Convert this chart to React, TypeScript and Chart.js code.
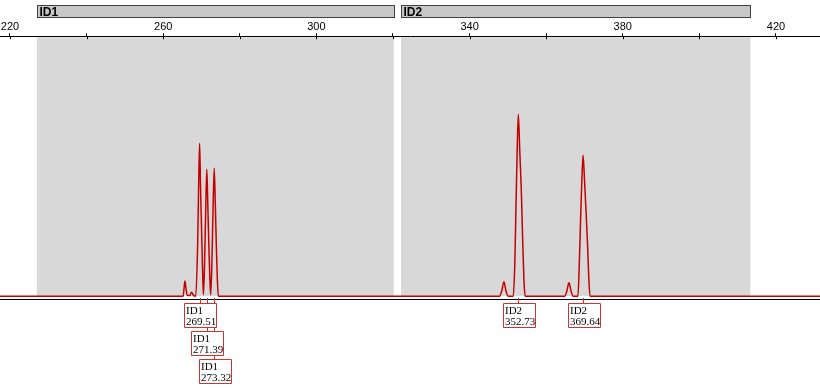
import React, { useEffect, useRef } from 'react';
import { Chart, registerables } from 'chart.js';

Chart.register(...registerables);

// Electropherogram trace: size (bp) and signal (RFU)
const TRACE_BP = [
  217.39, 265.2, 265.45, 265.69, 265.95, 266.3, 266.9, 267.4, 267.9, 268.5,
  269.0, 269.25, 269.51, 269.75, 270.0, 270.25, 270.5,
  270.8, 271.1, 271.39, 271.65, 271.95, 272.2, 272.4,
  272.7, 273.0, 273.32, 273.6, 273.9, 274.15, 274.4,
  347.8, 348.4, 348.98, 349.5, 350.1,
  351.4, 351.8, 352.1, 352.4, 352.73, 353.1, 353.5, 353.9, 354.2, 354.5,
  364.9, 365.4, 365.95, 366.5, 367.0,
  368.3, 368.7, 369.0, 369.3, 369.64, 370.0, 370.4, 370.8, 371.1, 371.45,
  431.5,
];
const TRACE_RFU = [
  0, 0, 30, 58, 30, 3, 2, 15, 3, 0,
  200, 420, 588, 420, 270, 120, 5,
  120, 330, 488, 350, 180, 60, 5,
  120, 320, 492, 360, 180, 60, 0,
  0, 20, 55, 20, 0,
  0, 120, 330, 540, 700, 560, 410, 200, 60, 0,
  0, 20, 51, 20, 0,
  0, 150, 300, 440, 542, 450, 330, 200, 80, 0,
  0,
];

// Bins (marker panels)
const BIN_NAMES = ['ID1', 'ID2'];
const BIN_START = [227.0, 322.1];
const BIN_END = [320.2, 413.3];

// Allele calls
const CALL_BIN = ['ID1', 'ID1', 'ID1', 'ID2', 'ID2'];
const CALL_SIZE = [269.51, 271.39, 273.32, 352.73, 369.64];

// Axis ticks
const TICK_VALUES = [220, 240, 260, 280, 300, 320, 340, 360, 380, 400, 420];
const TICK_LABELS = ['220', '', '260', '', '300', '', '340', '', '380', '', '420'];

const X_MIN = 217.39;
const X_MAX = 431.5;
const Y_MIN = -365;
const Y_MAX = 1000;

const decorPlugin = {
  id: 'decor',
  beforeDatasetsDraw(chart: any) {
    const { ctx, chartArea, scales } = chart;
    const xs = scales.x;
    const ys = scales.y;
    const base = ys.getPixelForValue(0);
    ctx.save();
    // gray bin bands
    ctx.fillStyle = '#d8d8d8';
    for (let i = 0; i < BIN_NAMES.length; i++) {
      const x0 = xs.getPixelForValue(BIN_START[i]);
      const x1 = xs.getPixelForValue(BIN_END[i]);
      ctx.fillRect(x0, chartArea.top + 1, x1 - x0, base - chartArea.top - 1);
    }
    // top bin bars
    for (let i = 0; i < BIN_NAMES.length; i++) {
      const x0 = Math.round(xs.getPixelForValue(BIN_START[i])) + 0.5;
      const x1 = Math.round(xs.getPixelForValue(BIN_END[i])) + 0.5;
      ctx.fillStyle = '#c8c8c8';
      ctx.fillRect(x0, 5.5, x1 - x0, 12);
      ctx.strokeStyle = '#404040';
      ctx.lineWidth = 1;
      ctx.strokeRect(x0, 5.5, x1 - x0, 12);
      ctx.fillStyle = '#000';
      ctx.font = 'bold 12px Arial, "Liberation Sans", sans-serif';
      ctx.textBaseline = 'alphabetic';
      ctx.textAlign = 'left';
      ctx.fillText(BIN_NAMES[i], x0 + 2, 16);
    }
    // tick marks below axis line
    ctx.strokeStyle = '#000';
    ctx.lineWidth = 1;
    ctx.beginPath();
    for (const v of TICK_VALUES) {
      const px = Math.round(xs.getPixelForValue(v)) + 0.5;
      ctx.moveTo(px, chartArea.top);
      ctx.lineTo(px, chartArea.top + 3);
    }
    ctx.stroke();
    // black line under baseline
    ctx.beginPath();
    ctx.moveTo(chartArea.left, Math.round(base) + 3.5);
    ctx.lineTo(chartArea.right, Math.round(base) + 3.5);
    ctx.stroke();
    ctx.restore();
  },
  afterDatasetsDraw(chart: any) {
    const { ctx, scales } = chart;
    const xs = scales.x;
    const ys = scales.y;
    const base = Math.round(ys.getPixelForValue(0));
    const boxW = 32;
    const boxH = 24;
    const rowStep = 28;
    const firstTop = base + 7;
    const rows: number[] = [];
    const pxs: number[] = [];
    for (let i = 0; i < CALL_SIZE.length; i++) {
      const px = xs.getPixelForValue(CALL_SIZE[i]);
      pxs.push(px);
      let row = 0;
      if (i > 0 && CALL_BIN[i] === CALL_BIN[i - 1] && px - pxs[i - 1] < boxW) row = rows[i - 1] + 1;
      rows.push(row);
    }
    ctx.save();
    ctx.lineWidth = 1;
    // connectors
    for (let i = 0; i < CALL_SIZE.length; i++) {
      const px = Math.round(pxs[i]) + 0.5;
      const top = firstTop + rows[i] * rowStep;
      ctx.strokeStyle = '#cc3333';
      ctx.beginPath();
      ctx.moveTo(px, base + 2);
      ctx.lineTo(px, top);
      ctx.stroke();
    }
    // boxes
    for (let i = 0; i < CALL_SIZE.length; i++) {
      const left = Math.round(pxs[i] - 15.5) + 0.5;
      const top = firstTop + rows[i] * rowStep + 0.5;
      ctx.fillStyle = '#ffffff';
      ctx.fillRect(left, top, boxW, boxH);
      ctx.strokeStyle = '#cc3333';
      ctx.beginPath();
      ctx.rect(left, top, boxW, boxH);
      ctx.stroke();
      ctx.fillStyle = '#000';
      ctx.font = '11px "Liberation Serif", "Times New Roman", serif';
      ctx.textAlign = 'left';
      ctx.textBaseline = 'alphabetic';
      ctx.fillText(CALL_BIN[i], left + 1.5, top + 10.5);
      ctx.fillText(CALL_SIZE[i].toFixed(2), left + 1.5, top + 21.5);
    }
    ctx.restore();
  },
};

export default function App() {
  const ref = useRef<HTMLCanvasElement | null>(null);
  useEffect(() => {
    document.body.style.margin = '0';
    const canvas = ref.current;
    if (!canvas) return;
    const chart = new Chart(canvas, {
      type: 'line',
      data: {
        datasets: [
          {
            data: TRACE_BP.map((x, i) => ({ x, y: TRACE_RFU[i] })),
            borderColor: '#c40000',
            borderWidth: 1.5,
            pointRadius: 0,
            cubicInterpolationMode: 'monotone',
            fill: false,
          },
        ],
      },
      options: {
        animation: false,
        responsive: false,
        maintainAspectRatio: false,
        devicePixelRatio: 1,
        layout: { padding: { top: 20, left: 0, right: 0, bottom: 0 } },
        plugins: { legend: { display: false }, tooltip: { enabled: false } },
        scales: {
          x: {
            type: 'linear',
            position: 'top',
            min: X_MIN,
            max: X_MAX,
            afterBuildTicks: (s: any) => {
              s.ticks = TICK_VALUES.map((v) => ({ value: v }));
            },
            ticks: {
              autoSkip: false,
              maxRotation: 0,
              padding: 0,
              color: '#000',
              font: { family: 'Arial, "Liberation Sans", sans-serif', size: 11 },
              callback: (_v: any, i: number) => TICK_LABELS[i],
            },
            grid: { drawOnChartArea: false, tickLength: 3, color: '#000' },
            border: { color: '#000', width: 1 },
          },
          y: { display: false, min: Y_MIN, max: Y_MAX },
        },
      },
      plugins: [decorPlugin],
    });
    return () => chart.destroy();
  }, []);
  return (
    <div style={{ width: 820, height: 391, background: '#fff' }}>
      <canvas ref={ref} width={820} height={391} style={{ display: 'block' }} />
    </div>
  );
}
